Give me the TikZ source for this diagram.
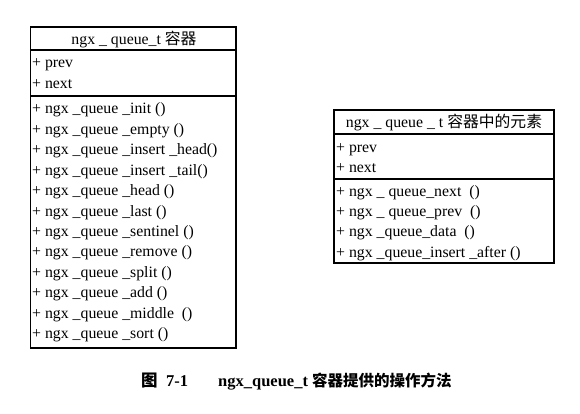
\documentclass[tikz,border=0pt]{standalone}
\usepackage{fontspec}
\setmainfont{Liberation Serif}
\newfontfamily\cjk{Noto Sans CJK SC}
\begin{document}
\begin{tikzpicture}[x=1pt,y=-1pt,
  frame/.style={draw=black,line width=1.1pt},
  sep/.style={draw=black,line width=1.1pt},
  item/.style={anchor=base west,inner sep=0pt,font=\fontsize{15.8}{17}\selectfont},
  ttl/.style={anchor=base,inner sep=0pt,font=\fontsize{15.8}{17}\selectfont},
  captext/.style={anchor=base west,inner sep=0pt,font=\fontsize{16.5}{18}\selectfont}]
\useasboundingbox (0,0) rectangle (580,414);
% left box
\draw[frame] (30.5,27) rectangle (236,348);
\draw[sep] (30.5,50) -- (236,50);
\draw[sep] (30.5,96) -- (236,96);
\node[ttl] (lt) at (134,44.5) {ngx \_ queue\_t {\cjk 容器}};
\node[item] (la1) at (32,67.5) {+ prev};
\node[item] (la2) at (32,88.3) {+ next};
\node[item] (lm1) at (32,114) {+ ngx \_queue \_init ()};
\node[item] (lm2) at (32,134.4) {+ ngx \_queue \_empty ()};
\node[item] (lm3) at (32,154.8) {+ ngx \_queue \_insert \_head()};
\node[item] (lm4) at (32,175.2) {+ ngx \_queue \_insert \_tail()};
\node[item] (lm5) at (32,195.6) {+ ngx \_queue \_head ()};
\node[item] (lm6) at (32,216) {+ ngx \_queue \_last ()};
\node[item] (lm7) at (32,236.4) {+ ngx \_queue \_sentinel ()};
\node[item] (lm8) at (32,256.8) {+ ngx \_queue \_remove ()};
\node[item] (lm9) at (32,277.2) {+ ngx \_queue \_split ()};
\node[item] (lm10) at (32,297.6) {+ ngx \_queue \_add ()};
\node[item] (lm11) at (32,318) {+ ngx \_queue \_middle \ ()};
\node[item] (lm12) at (32,338.4) {+ ngx \_queue \_sort ()};
% right box
\draw[frame] (334,110) rectangle (554,263);
\draw[sep] (334,134) -- (554,134);
\draw[sep] (334,179) -- (554,179);
\node[ttl] (rt) at (444,128) {ngx \_ queue \_ t {\cjk 容器中的元素}};
\node[item] (ra1) at (336,152.7) {+ prev};
\node[item] (ra2) at (336,172.7) {+ next};
\node[item] (rm1) at (336,196.7) {+ ngx \_ queue\_next \ ()};
\node[item] (rm2) at (336,216.7) {+ ngx \_ queue\_prev \ ()};
\node[item] (rm3) at (336,236.7) {+ ngx \_queue\_data \ ()};
\node[item] (rm4) at (336,257.3) {+ ngx \_queue\_insert \_after ()};
% caption
\node[captext] (c0) at (141,386) {{\cjk\bfseries 图}};
\node[captext] (c1) at (166,386) {\textbf{7-1}};
\node[captext] (c2) at (218,386) {\textbf{ngx\_queue\_t} {\cjk\bfseries\fontsize{15.5}{18}\selectfont 容器提供的操作方法}};
\end{tikzpicture}
\end{document}
